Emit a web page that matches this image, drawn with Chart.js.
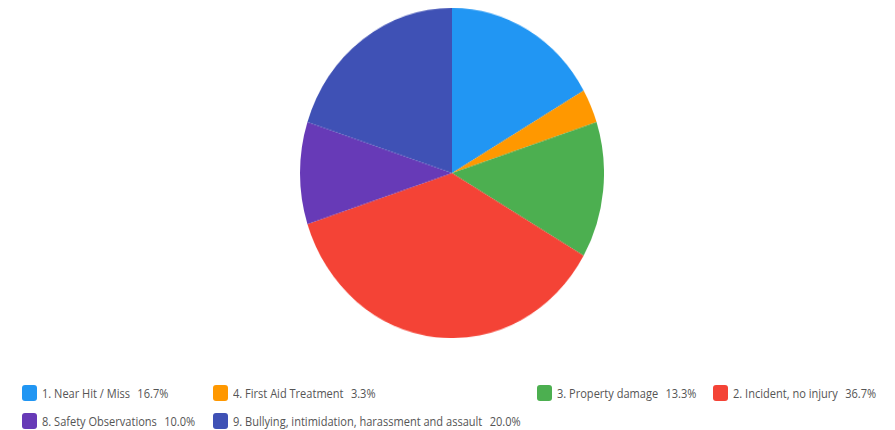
<!DOCTYPE html>
<html>
<head>
<meta charset="utf-8">
<script src="https://cdn.jsdelivr.net/npm/chart.js@4.4.1/dist/chart.umd.min.js"></script>
<style>
  html, body { margin: 0; padding: 0; background: #fff; }
  body { width: 895px; height: 430px; position: relative; overflow: hidden; font-family: "Open Sans", sans-serif; }
  /* source image is slightly stretched vertically, so the pie is an ellipse and text is narrow */
  #pie-wrap { position: absolute; left: 300px; top: 8px; width: 304px; height: 304px; transform: scaleY(1.086); transform-origin: top left; }
  #legend { position: absolute; left: 22px; top: 384px; display: grid; grid-template-columns: 191px 324px 176px auto; row-gap: 10px; }
  .item { display: flex; align-items: center; font-size: 12px; color: #555; white-space: nowrap; height: 18px; }
  .box { width: 15px; height: 16px; border-radius: 3px; margin-right: 5px; flex: none; }
  .txt { display: inline-block; transform: scaleX(0.92); transform-origin: left center; }
  .pct { margin-left: 8px; }
</style>
</head>
<body>
<div id="pie-wrap"><canvas id="c"></canvas></div>
<div id="legend"></div>
<script>
const labels = [
  "1. Near Hit / Miss",
  "4. First Aid Treatment",
  "3. Property damage",
  "2. Incident, no injury",
  "8. Safety Observations",
  "9. Bullying, intimidation, harassment and assault",
];
const counts = [5, 1, 4, 11, 3, 6];
const colors = ["#2196F3", "#FF9800", "#4CAF50", "#F44336", "#673AB7", "#3F51B5"];

const total = counts.reduce((a, b) => a + b, 0);
const pct = counts.map((v) => (v / total * 100).toFixed(1) + "%");

new Chart(document.getElementById("c"), {
  type: "pie",
  data: { labels, datasets: [{ data: counts, backgroundColor: colors, borderWidth: 0 }] },
  options: {
    responsive: true,
    maintainAspectRatio: false,
    animation: false,
    layout: { padding: 0 },
    plugins: { legend: { display: false }, tooltip: { enabled: false } },
  },
});

document.getElementById("legend").innerHTML = labels
  .map((l, i) => `<div class="item"><span class="box" style="background:${colors[i]}"></span><span class="txt">${l}<span class="pct">${pct[i]}</span></span></div>`)
  .join("");
</script>
</body>
</html>
